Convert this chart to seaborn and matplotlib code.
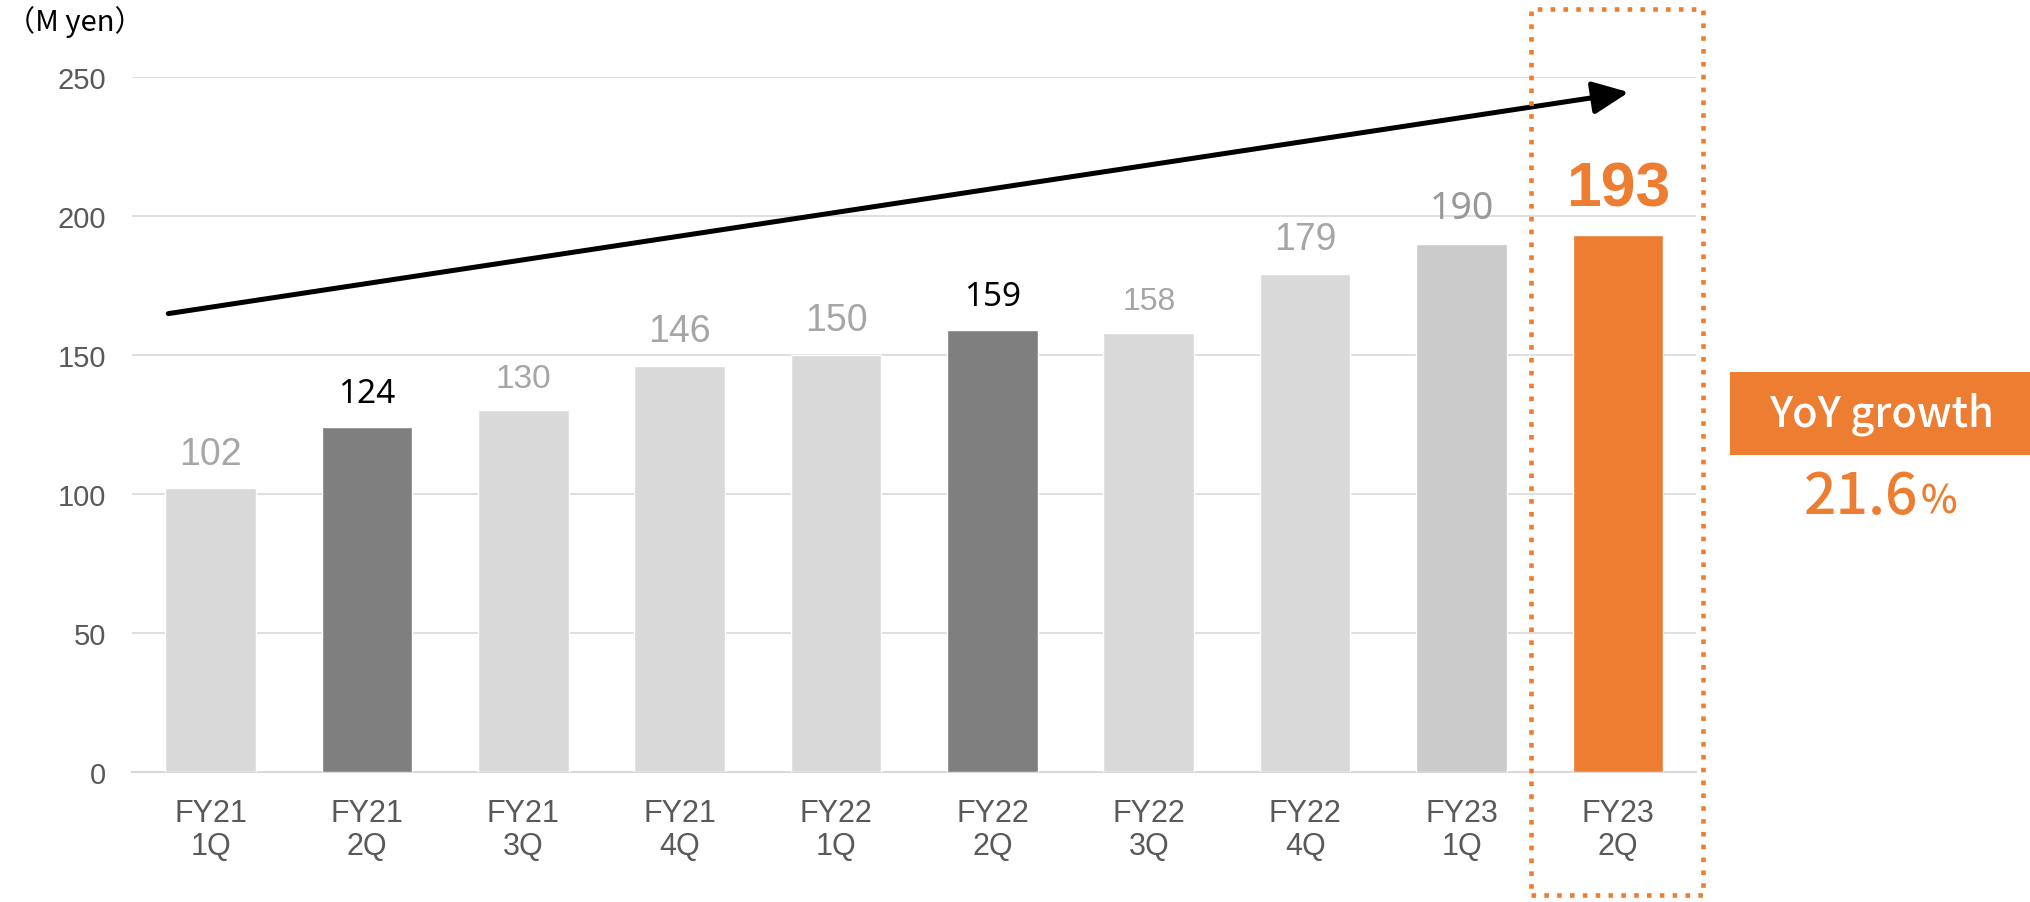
import matplotlib
matplotlib.use("Agg")
import matplotlib.pyplot as plt
import matplotlib.patches as mpatches
import pandas as pd
import seaborn as sns

# quarterly sales (M yen)
quarters = ["FY21\n1Q", "FY21\n2Q", "FY21\n3Q", "FY21\n4Q", "FY22\n1Q",
            "FY22\n2Q", "FY22\n3Q", "FY22\n4Q", "FY23\n1Q", "FY23\n2Q"]
sales = [102, 124, 130, 146, 150, 159, 158, 179, 190, 193]
yoy_growth = "21.6"
y_ticks = [0, 50, 100, 150, 200, 250]

# trend arrow, in data units (category index, value)
trend_start = (-0.27, 164.8)
trend_end = (9.07, 244.4)

ORANGE = "#ED7D31"
bar_colors = ["#D9D9D9", "#7F7F7F", "#D9D9D9", "#D9D9D9", "#D9D9D9",
              "#7F7F7F", "#D9D9D9", "#D9D9D9", "#CBCBCB", ORANGE]
label_colors = ["#A6A6A6", "#000000", "#A6A6A6", "#A6A6A6", "#A6A6A6",
                "#000000", "#A6A6A6", "#A6A6A6", "#999999", ORANGE]
label_sizes = [27, 24, 24, 27, 27, 24, 23, 27, 27, 45]
label_weights = ["normal", "medium", "normal", "normal", "normal",
                 "medium", "normal", "normal", "medium", "bold"]
narrow = ["Liberation Sans Narrow", "Liberation Sans", "DejaVu Sans"]
gothic = ["Noto Sans CJK JP", "DejaVu Sans"]
noto = ["Noto Sans", "DejaVu Sans"]
arial = ["Liberation Sans", "DejaVu Sans"]
label_fonts = [narrow, noto, narrow, narrow, narrow,
               noto, arial, narrow, noto, arial]

sns.set_theme(style="white")
plt.rcParams["font.family"] = ["Liberation Sans", "DejaVu Sans"]

df = pd.DataFrame({"quarter": quarters, "sales": sales})

fig = plt.figure(figsize=(20.3, 9.03), dpi=100)
ax = fig.add_axes([0.0652, 0.144, 0.7703, 0.770])

sns.barplot(data=df, x="quarter", y="sales", hue="quarter", order=quarters,
            palette=dict(zip(quarters, bar_colors)), width=0.58,
            legend=False, saturation=1, ax=ax, zorder=3)

ax.set_xlim(-0.5, len(quarters) - 0.5)
ax.set_ylim(0, 250)
ax.set_yticks(y_ticks)
ax.set_xlabel("")
ax.set_ylabel("")
ax.yaxis.grid(True, color="#D9D9D9", lw=1.2, zorder=0)
ax.xaxis.grid(False)
for side in ["top", "right", "left"]:
    ax.spines[side].set_visible(False)
ax.spines["bottom"].set_color("#D9D9D9")
ax.spines["bottom"].set_linewidth(1.5)
ax.tick_params(axis="y", length=0, pad=19, labelsize=21, labelcolor="#595959")
ax.tick_params(axis="x", length=0, pad=19, labelsize=22, labelcolor="#595959")
for t in ax.get_xticklabels():
    t.set_linespacing(1.1)

# value labels above the bars
for i, v in enumerate(sales):
    ax.text(i, v + 6, str(v), ha="center", va="bottom", color=label_colors[i],
            fontsize=label_sizes[i], fontweight=label_weights[i],
            family=label_fonts[i], clip_on=False, zorder=5)

# growth trend arrow
ax.annotate("", xy=trend_end, xytext=trend_start,
            arrowprops=dict(arrowstyle="-|>,head_length=1.1,head_width=0.5",
                            color="black", lw=3.6, mutation_scale=20,
                            shrinkA=0, shrinkB=0), zorder=6)

# unit label
fig.text(0.003, 0.976, "（M yen）", ha="left", va="center", fontsize=21,
         color="black", family=gothic)

# dotted highlight around latest quarter
fig.add_artist(mpatches.Rectangle((0.754, 0.008), 0.0847, 0.981, fill=False,
                                  edgecolor=ORANGE, lw=3.3,
                                  linestyle=(0, (1, 1.8)),
                                  transform=fig.transFigure))

# YoY growth box
fig.add_artist(mpatches.Rectangle((0.852, 0.495), 0.15, 0.092, facecolor=ORANGE,
                                  edgecolor="none", transform=fig.transFigure))
fig.text(0.927, 0.541, "YoY growth", ha="center", va="center", fontsize=30,
         fontweight="medium", color="white", family=gothic)
fig.text(0.945, 0.449, yoy_growth, ha="right", va="center", fontsize=41,
         fontweight="medium", color=ORANGE, family=gothic)
fig.text(0.946, 0.443, "%", ha="left", va="center", fontsize=28,
         fontweight="medium", color=ORANGE, family=gothic)

fig.savefig("out.png", dpi=100, facecolor="white")
